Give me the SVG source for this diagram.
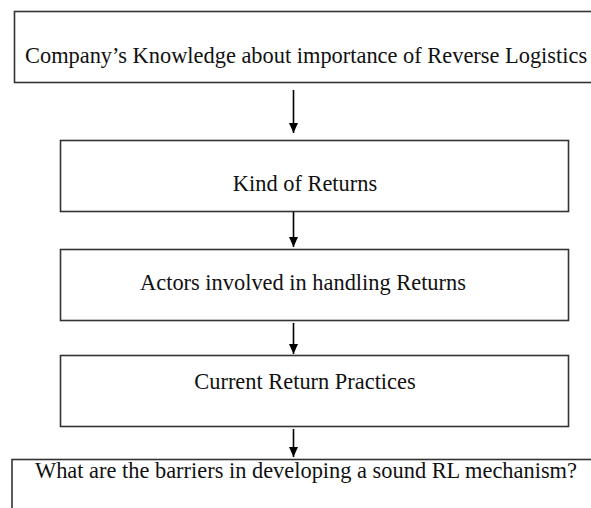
<svg xmlns="http://www.w3.org/2000/svg" width="591" height="508" viewBox="0 0 591 508">
  <style>
    .box { fill: #ffffff; stroke: #333333; stroke-width: 1.6; }
    .label { font-family: "Liberation Serif", "Times New Roman", serif; font-size: 22.4px; fill: #111111; }
    .flow { stroke: #000000; stroke-width: 1.6; fill: none; }
  </style>
  <defs>
    <marker id="head" viewBox="0 0 10 10" refX="10" refY="5" markerWidth="10" markerHeight="10" markerUnits="userSpaceOnUse" orient="auto">
      <path d="M0,0.5 L10,5 L0,9.5 Z" fill="#000000"/>
    </marker>
  </defs>
  <rect width="591" height="508" fill="#ffffff"/>

  <g id="knowledge">
    <rect class="box" x="14.5" y="11.5" width="600" height="71"/>
    <text class="label" x="25" y="62.5">Company’s Knowledge about importance of Reverse Logistics</text>
  </g>

  <g id="kind-of-returns">
    <rect class="box" x="60.5" y="140.5" width="508" height="71"/>
    <text class="label" x="305" y="191" text-anchor="middle">Kind of Returns</text>
  </g>

  <g id="actors">
    <rect class="box" x="60.5" y="249.5" width="508" height="71"/>
    <text class="label" x="303" y="290" text-anchor="middle">Actors involved in handling Returns</text>
  </g>

  <g id="return-practices">
    <rect class="box" x="60.5" y="355.5" width="508" height="71"/>
    <text class="label" x="305" y="389" text-anchor="middle">Current Return Practices</text>
  </g>

  <g id="barriers">
    <rect class="box" x="12" y="459.5" width="600" height="60"/>
    <text class="label" x="35" y="477.5">What are the barriers in developing a sound RL mechanism?</text>
  </g>

  <g id="connectors">
    <line class="flow" x1="293.5" y1="90" x2="293.5" y2="133" marker-end="url(#head)"/>
    <line class="flow" x1="293.5" y1="212" x2="293.5" y2="247" marker-end="url(#head)"/>
    <line class="flow" x1="293.5" y1="323" x2="293.5" y2="354" marker-end="url(#head)"/>
    <line class="flow" x1="293.5" y1="429" x2="293.5" y2="457" marker-end="url(#head)"/>
  </g>
</svg>
